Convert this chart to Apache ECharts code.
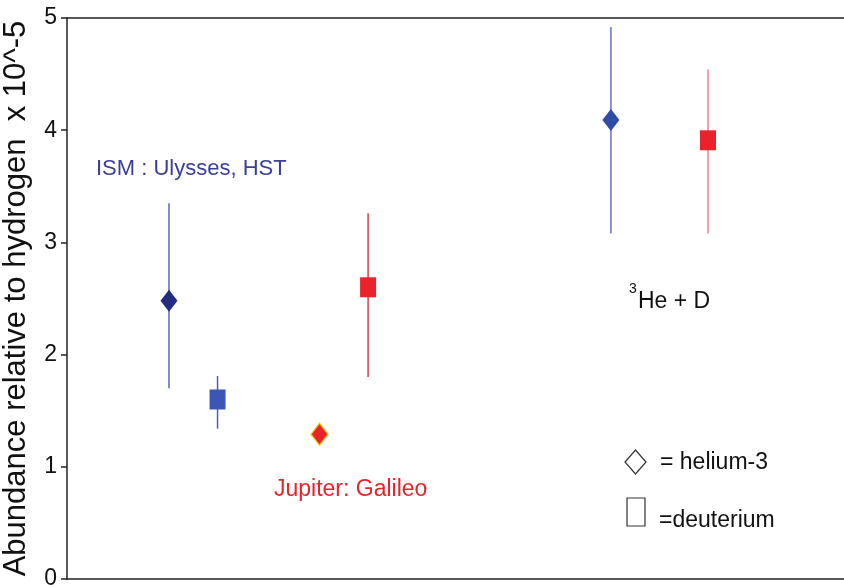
<!DOCTYPE html>
<html>
<head>
<meta charset="utf-8">
<script src="https://cdn.jsdelivr.net/npm/echarts@6/dist/echarts.min.js"></script>
<style>html,body{margin:0;padding:0;background:#fff}#chart{width:844px;height:588px}</style>
</head>
<body>
<div id="chart"></div>
<script>
// ---- data ----
const groups = ['ISM : Ulysses, HST', 'Jupiter: Galileo', '3He + D'];
const yTicks = [0, 1, 2, 3, 4, 5];
// helium-3 (diamonds)
const heX = [1.05, 2.6, 5.6];
const heVal = [2.48, 1.29, 4.09];
const heLow = [1.70, null, 3.08];
const heHigh = [3.35, null, 4.92];
// deuterium (squares)
const dX = [1.55, 3.1, 6.6];
const dVal = [1.60, 2.60, 3.91];
const dLow = [1.34, 1.80, 3.08];
const dHigh = [1.81, 3.26, 4.54];

// ---- styles ----
const heColors = ['#232c80', '#e8232b', '#2e4da8'];
const heBorders = ['#232c80', '#f2c800', '#2e4da8'];
const dColors = ['#3a57b5', '#e8232b', '#e8232b'];
const heErrColors = ['#5b64c8', null, '#6570c8'];
const dErrColors = ['#4a5fc0', '#d8404c', '#e08595'];
const FONT = '"Liberation Sans", Arial, sans-serif';

const errData = [];
heX.forEach((x, i) => { if (heLow[i] != null) errData.push({value: [x, heLow[i], heHigh[i]], c: heErrColors[i]}); });
dX.forEach((x, i) => { if (dLow[i] != null) errData.push({value: [x, dLow[i], dHigh[i]], c: dErrColors[i]}); });

const chart = echarts.init(document.getElementById('chart'));
chart.setOption({
  animation: false,
  backgroundColor: '#fff',
  grid: {left: 67, right: 0, top: 18, bottom: 9, containLabel: false, outerBoundsMode: 'none'},
  xAxis: [
    {type: 'value', min: 0, max: 8, position: 'bottom',
     axisLine: {show: true, lineStyle: {color: '#222', width: 1.5}},
     axisTick: {show: false}, axisLabel: {show: false}, splitLine: {show: false}},
    {type: 'value', min: 0, max: 8, position: 'top',
     axisLine: {show: true, lineStyle: {color: '#222', width: 1.5}},
     axisTick: {show: false}, axisLabel: {show: false}, splitLine: {show: false}}
  ],
  yAxis: {
    type: 'value', min: yTicks[0], max: yTicks[yTicks.length - 1], interval: 1,
    name: 'Abundance relative to hydrogen  x 10^-5',
    nameLocation: 'middle', nameRotate: 90, nameGap: 35,
    nameTextStyle: {fontFamily: FONT, fontSize: 31, color: '#111'},
    axisLine: {show: true, lineStyle: {color: '#222', width: 1.5}},
    axisTick: {show: true, inside: false, length: 6, lineStyle: {color: '#222', width: 1.5}},
    axisLabel: {fontFamily: FONT, fontSize: 23, color: '#111', margin: 10},
    splitLine: {show: false}
  },
  series: [
    {
      type: 'custom', name: 'errors', z: 1,
      renderItem: function (params, api) {
        const p1 = api.coord([api.value(0), api.value(1)]);
        const p2 = api.coord([api.value(0), api.value(2)]);
        return {type: 'line', shape: {x1: p1[0], y1: p1[1], x2: p2[0], y2: p2[1]},
                style: {stroke: errData[params.dataIndex].c, lineWidth: 1.5}};
      },
      data: errData.map(d => d.value)
    },
    {
      type: 'scatter', name: 'helium-3', z: 3, symbol: 'diamond', symbolSize: [17, 22],
      data: heX.map((x, i) => ({value: [x, heVal[i]], itemStyle: {opacity: 1, color: heColors[i], borderColor: heBorders[i], borderWidth: i === 1 ? 1.2 : 0}}))
    },
    {
      type: 'scatter', name: 'deuterium', z: 3, symbol: 'rect', symbolSize: [16, 20],
      data: dX.map((x, i) => ({value: [x, dVal[i]], itemStyle: {opacity: 1, color: dColors[i]}}))
    }
  ],
  graphic: [
    {type: 'text', style: {x: 96, y: 169, text: groups[0], font: '22px ' + FONT, fill: '#3a3f9a', verticalAlign: 'middle'}},
    {type: 'text', style: {x: 274, y: 490, text: groups[1], font: '23px ' + FONT, fill: '#e8232b', verticalAlign: 'middle'}},
    {type: 'text', style: {x: 629, y: 289, text: '3', font: '14px ' + FONT, fill: '#111', verticalAlign: 'middle'}},
    {type: 'text', style: {x: 638, y: 302, text: 'He + D', font: '23px ' + FONT, fill: '#111', verticalAlign: 'middle'}},
    {type: 'polygon', shape: {points: [[635.5, 450], [646, 462], [635.5, 474], [625, 462]]}, style: {fill: 'none', stroke: '#333', lineWidth: 1.2}},
    {type: 'text', style: {x: 660, y: 463, text: '= helium-3', font: '23px ' + FONT, fill: '#111', verticalAlign: 'middle'}},
    {type: 'rect', shape: {x: 627, y: 498, width: 18, height: 28}, style: {fill: 'none', stroke: '#333', lineWidth: 1.2}},
    {type: 'text', style: {x: 659, y: 521, text: '=deuterium', font: '23px ' + FONT, fill: '#111', verticalAlign: 'middle'}}
  ]
});
</script>
</body>
</html>
